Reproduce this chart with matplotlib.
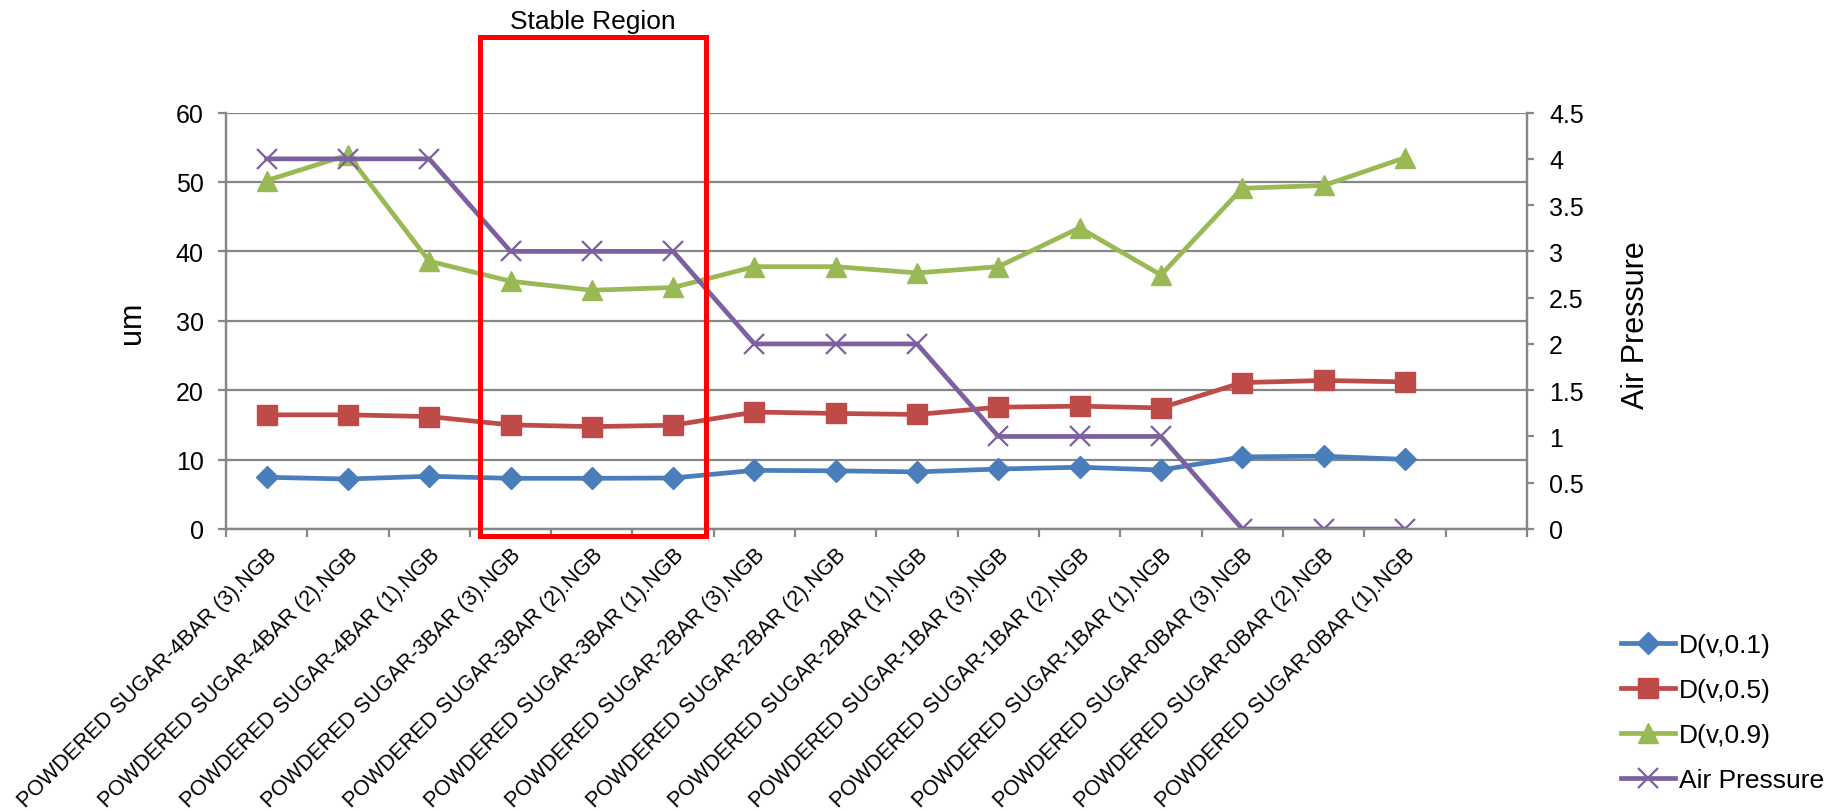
import matplotlib.pyplot as plt
import matplotlib.patches as patches
from matplotlib.ticker import MultipleLocator, FuncFormatter
import numpy as np

# particle size results per sample file
samples = [
    "POWDERED SUGAR-4BAR (3).NGB", "POWDERED SUGAR-4BAR (2).NGB", "POWDERED SUGAR-4BAR (1).NGB",
    "POWDERED SUGAR-3BAR (3).NGB", "POWDERED SUGAR-3BAR (2).NGB", "POWDERED SUGAR-3BAR (1).NGB",
    "POWDERED SUGAR-2BAR (3).NGB", "POWDERED SUGAR-2BAR (2).NGB", "POWDERED SUGAR-2BAR (1).NGB",
    "POWDERED SUGAR-1BAR (3).NGB", "POWDERED SUGAR-1BAR (2).NGB", "POWDERED SUGAR-1BAR (1).NGB",
    "POWDERED SUGAR-0BAR (3).NGB", "POWDERED SUGAR-0BAR (2).NGB", "POWDERED SUGAR-0BAR (1).NGB",
]
d10 = [7.45, 7.2, 7.6, 7.3, 7.3, 7.35, 8.45, 8.38, 8.23, 8.64, 8.9, 8.5, 10.39, 10.49, 10.03]
d50 = [16.45, 16.45, 16.2, 15.0, 14.75, 14.95, 16.85, 16.65, 16.5, 17.55, 17.7, 17.45, 21.1, 21.4, 21.2]
d90 = [50.2, 53.9, 38.6, 35.7, 34.4, 34.8, 37.8, 37.8, 36.9, 37.8, 43.4, 36.6, 49.1, 49.5, 53.5]
air_pressure = [4, 4, 4, 3, 3, 3, 2, 2, 2, 1, 1, 1, 0, 0, 0]

plt.rcParams['font.family'] = ['Liberation Sans', 'DejaVu Sans']

grey = '#868686'
fig = plt.figure(figsize=(18.31, 8.12), dpi=100)
ax = fig.add_axes([0.1234, 0.3473, 0.7105, 0.5128])
ax2 = ax.twinx()

x = np.arange(len(samples))
lw = 3.4
h1, = ax.plot(x, d10, color='#4A7EBB', lw=lw, marker='D', ms=11, label='D(v,0.1)')
h2, = ax.plot(x, d50, color='#BE4B48', lw=lw, marker='s', ms=14, label='D(v,0.5)')
h3, = ax.plot(x, d90, color='#98B954', lw=lw, marker='^', ms=14.5, label='D(v,0.9)')
h4, = ax2.plot(x, air_pressure, color='#7D60A0', lw=lw, marker='x', ms=14, mew=1.6,
               label='Air Pressure')

# one spare category slot on the right, like the spreadsheet chart
ax.set_xlim(-0.5, len(samples) + 0.5)
ax.set_ylim(0, 60)
ax2.set_ylim(0, 4.5)

ax.yaxis.set_major_locator(MultipleLocator(10))
ax2.yaxis.set_major_locator(MultipleLocator(0.5))
ax2.yaxis.set_major_formatter(FuncFormatter(lambda v, p: f'{v:g}'))
ax.grid(axis='y', color=grey, lw=1.6)
ax.set_axisbelow(True)

ax.set_xticks(np.arange(-0.5, len(samples) + 1, 1))
ax.set_xticklabels([])
ax.set_xticks(x, samples, minor=True, rotation=45, ha='right', va='top',
              rotation_mode='anchor', fontsize=15.5)
ax.tick_params(axis='x', which='major', length=6, width=1.6, color=grey, direction='out')
ax.tick_params(axis='x', which='minor', length=0, pad=11)
ax.tick_params(axis='y', length=6, width=1.6, color=grey, labelsize=18, pad=10)
ax2.tick_params(axis='y', length=5, width=1.6, color=grey, labelsize=18, pad=11)

for a in (ax, ax2):
    a.spines['top'].set_visible(False)
    for s in ('left', 'right', 'bottom'):
        a.spines[s].set_color(grey)
        a.spines[s].set_linewidth(1.6)

ax.set_ylabel('um', fontsize=22)
ax.yaxis.set_label_coords(-0.061, 0.497)
ax2.set_ylabel('Air Pressure', fontsize=22)
ax2.yaxis.set_label_coords(1.072, 0.492)

# stable region marker
box_left, box_right = 2.62, 5.4
box_bottom, box_top = -1.0, 70.9
rect = patches.Rectangle((box_left, box_bottom), box_right - box_left, box_top - box_bottom,
                         transform=ax.transData, fill=False, edgecolor='#FF0000', lw=3.6,
                         clip_on=False, zorder=10)
ax2.add_patch(rect)
ax.text((box_left + box_right) / 2, 72.15, 'Stable Region', ha='center', va='baseline',
        fontsize=19, clip_on=False)

fig.legend(handles=[h1, h2, h3, h4], loc='center left', bbox_to_anchor=(0.8853, 0.121),
           frameon=False, fontsize=19, handlelength=2.05, handletextpad=0.15,
           labelspacing=0.8, borderpad=0, borderaxespad=0)

fig.savefig('out.png', dpi=100)
